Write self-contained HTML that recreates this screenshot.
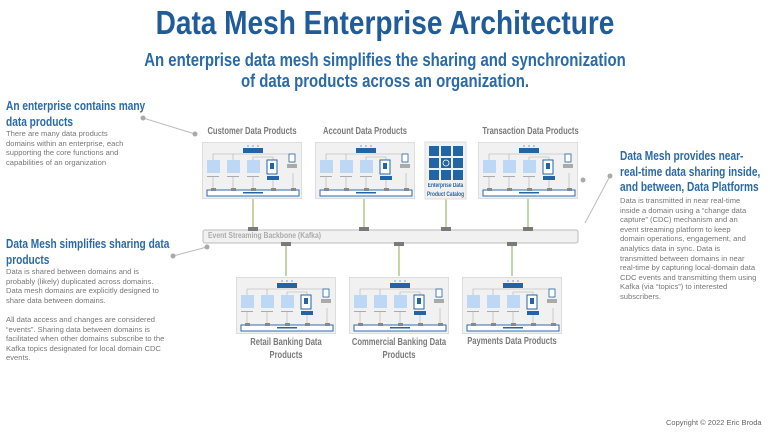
<!DOCTYPE html>
<html><head><meta charset="utf-8"><style>
body{margin:0;width:770px;height:433px;background:#fff;position:relative;overflow:hidden;font-family:"Liberation Sans",sans-serif}
.a{position:absolute;white-space:nowrap}
.h{font-family:"Liberation Sans",sans-serif;font-weight:bold;color:#2a6aa6}
.b{color:#777;font-size:7.6px;line-height:9.6px}
.t{font-weight:bold;color:#7a7a7a;font-size:10px;text-align:center;transform:scaleX(.76);transform-origin:center}
.sl{transform:scaleX(.78);transform-origin:left top}
.box{position:absolute;width:100px;height:57px;background:#f1f1f1;border:1px solid #ddd;box-sizing:border-box}
.box svg{position:absolute;left:0;top:0}
</style></head><body>
<svg width="0" height="0" style="position:absolute"><defs>
<symbol id="d" viewBox="0 0 100 57">
<g stroke="#b0b0b0" stroke-width="0.6" fill="none">
<path d="M10 17V11H90V20M30 17V11M50 17V14H70V17"/>
<path d="M10 33V48M30 33V48M50 33V48M70 36V48M90 30V48"/>
</g>
<rect x="40" y="5" width="20" height="5" fill="#2364a5"/>
<g fill="#2364a5"><circle cx="45" cy="3" r=".6"/><circle cx="50" cy="3" r=".6"/><circle cx="55" cy="3" r=".6"/></g>
<g fill="#bcd8f5"><rect x="4" y="17" width="13" height="13"/><rect x="24" y="17" width="13" height="13"/><rect x="44" y="17" width="13" height="13"/></g>
<rect x="64" y="17" width="10" height="14" fill="#fff" stroke="#2364a5" stroke-width="1"/>
<rect x="67" y="20" width="4" height="6" fill="#2364a5"/>
<rect x="86" y="11" width="6" height="8" fill="#fff" stroke="#2364a5" stroke-width=".8"/>
<g fill="#aaa"><rect x="4" y="33" width="12" height="1"/><rect x="24" y="33" width="12" height="1"/><rect x="44" y="33" width="12" height="1"/><rect x="84" y="21" width="10" height="4"/></g>
<g fill="#2364a5"><rect x="64" y="33" width="12" height="4"/></g>
<rect x="4" y="47" width="92" height="6" fill="#fff" stroke="#2b6cb0" stroke-width="1"/>
<rect x="40" y="49" width="20" height="1.5" fill="#2364a5"/>
<g fill="#888"><rect x="8" y="45" width="5" height="3"/><rect x="28" y="45" width="5" height="3"/><rect x="48" y="45" width="5" height="3"/><rect x="68" y="45" width="5" height="3"/><rect x="88" y="45" width="5" height="3"/></g>
</symbol></defs></svg>

<div class="a h" style="left:0;width:770px;text-align:center;top:4px;font-size:33px;color:#1f5c99;transform:scaleX(.85)">Data Mesh Enterprise Architecture</div>
<div class="a h" style="left:0;width:770px;text-align:center;top:50px;font-size:18px;line-height:21px;transform:scaleX(.83)">An enterprise data mesh simplifies the sharing and synchronization<br>of data products across an organization.</div>

<div class="a h sl" style="left:6px;top:98px;font-size:13px;line-height:15.5px">An enterprise contains many<br>data products</div>
<div class="a b" style="left:6px;top:129px">There are many data products<br>domains within an enterprise, each<br>supporting the core functions and<br>capabilities of an organization</div>
<div class="a h sl" style="left:6px;top:236px;font-size:13px;line-height:15.5px">Data Mesh simplifies sharing data<br>products</div>
<div class="a b" style="left:6px;top:267px">Data is shared between domains and is<br>probably (likely) duplicated across domains.<br>Data mesh domains are explicitly designed to<br>share data between domains.<br><br>All data access and changes are considered<br>“events”.  Sharing data between domains is<br>facilitated when other domains subscribe to the<br>Kafka topics designated for local domain CDC<br>events.</div>

<div class="a h sl" style="left:620px;top:148px;font-size:13px;line-height:15.5px">Data Mesh provides near-<br>real-time data sharing inside,<br>and between,  Data Platforms</div>
<div class="a b" style="left:620px;top:196px">Data is transmitted in near real-time<br>inside a domain using a “change data<br>capture” (CDC) mechanism and an<br>event streaming platform to keep<br>domain operations, engagement, and<br>analytics data in sync. Data is<br>transmitted between domains in near<br>real-time by capturing local-domain data<br>CDC events and transmitting them using<br>Kafka (via “topics”) to interested<br>subscribers.</div>

<svg class="a" style="left:0;top:0" width="770" height="433">
<g stroke="#bbb" stroke-width="1" fill="#aaa">
<line x1="143" y1="118" x2="195" y2="134"/><circle cx="143" cy="118" r="2.5" stroke="none"/><circle cx="195" cy="134" r="2.5" stroke="none"/>
<line x1="173" y1="256" x2="207" y2="247"/><circle cx="173" cy="256" r="2.5" stroke="none"/><circle cx="207" cy="247" r="2.5" stroke="none"/>
<line x1="585" y1="223" x2="610" y2="176"/><circle cx="583" cy="180" r="2.5" stroke="none"/><circle cx="610" cy="176" r="2.5" stroke="none"/>
</g>
<g stroke="#9bbb6f" stroke-width="1.2">
<line x1="253" y1="199" x2="253" y2="230"/><line x1="364" y1="199" x2="364" y2="230"/><line x1="446" y1="199" x2="446" y2="230"/><line x1="528" y1="199" x2="528" y2="230"/>
<line x1="286" y1="243" x2="286" y2="276"/><line x1="399" y1="243" x2="399" y2="276"/><line x1="512" y1="243" x2="512" y2="276"/>
</g>
<rect x="203" y="230" width="375" height="13" rx="2" fill="#f1f1f1" stroke="#bbb"/>
<g fill="#7a7a7a">
<rect x="248" y="227" width="10" height="4"/><rect x="359" y="227" width="10" height="4"/><rect x="441" y="227" width="10" height="4"/><rect x="523" y="227" width="10" height="4"/>
<rect x="281" y="242" width="10" height="4"/><rect x="394" y="242" width="10" height="4"/><rect x="507" y="242" width="10" height="4"/>
</g>
<rect x="425" y="142" width="41" height="57" fill="#f1f1f1" stroke="#ddd"/>
<g fill="#2364a5">
<rect x="429" y="146" width="10" height="10"/><rect x="441" y="146" width="10" height="10"/><rect x="453" y="146" width="10" height="10"/>
<rect x="429" y="158" width="10" height="10"/><rect x="441" y="158" width="10" height="10"/><rect x="453" y="158" width="10" height="10"/>
<rect x="429" y="170" width="10" height="10"/><rect x="441" y="170" width="10" height="10"/><rect x="453" y="170" width="10" height="10"/>
</g>
<circle cx="446" cy="163" r="3" fill="none" stroke="#fff" stroke-width=".8"/>
</svg>
<div class="a h" style="left:420px;width:51px;text-align:center;top:182px;font-size:6px;line-height:9px;color:#2364a5;transform:scaleX(.8)">Enterprise Data<br>Product Catalog</div>
<div class="a" style="left:208px;top:231px;font-size:8px;font-weight:bold;color:#aaa;transform:scaleX(.85);transform-origin:left top">Event Streaming Backbone (Kafka)</div>

<div class="box" style="left:202px;top:142px"><svg width="100" height="57"><use href="#d"/></svg></div>
<div class="box" style="left:315px;top:142px"><svg width="100" height="57"><use href="#d"/></svg></div>
<div class="box" style="left:478px;top:142px"><svg width="100" height="57"><use href="#d"/></svg></div>
<div class="box" style="left:236px;top:277px"><svg width="100" height="57"><use href="#d"/></svg></div>
<div class="box" style="left:349px;top:277px"><svg width="100" height="57"><use href="#d"/></svg></div>
<div class="box" style="left:462px;top:277px"><svg width="100" height="57"><use href="#d"/></svg></div>

<div class="a t" style="left:192px;width:120px;top:126px">Customer Data Products</div>
<div class="a t" style="left:305px;width:120px;top:126px">Account Data Products</div>
<div class="a t" style="left:468px;width:120px;top:126px">Transaction Data Products</div>
<div class="a t" style="left:226px;width:120px;top:336px;line-height:13px">Retail Banking Data<br>Products</div>
<div class="a t" style="left:334px;width:130px;top:336px;line-height:13px">Commercial Banking Data<br>Products</div>
<div class="a t" style="left:452px;width:120px;top:336px">Payments Data Products</div>

<div class="a" style="left:666px;top:418px;font-size:7.5px;color:#666">Copyright © 2022 Eric Broda</div>
</body></html>
